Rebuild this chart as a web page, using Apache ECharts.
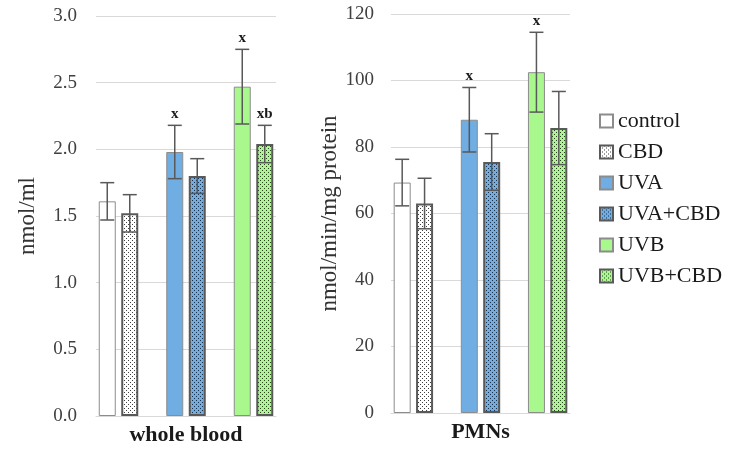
<!DOCTYPE html>
<html>
<head>
<meta charset="utf-8">
<script src="https://cdn.jsdelivr.net/npm/echarts@6/dist/echarts.min.js"></script>
<style>
  html, body { margin: 0; padding: 0; background: #fff; }
  #main { width: 730px; height: 450px; }
</style>
</head>
<body>
<div id="main"></div>
<script>
// groups and values
const groups = ['control', 'CBD', 'UVA', 'UVA+CBD', 'UVB', 'UVB+CBD'];
const slots = [0, 1, 3, 4, 6, 7]; // 8 slots per panel, two empty gaps
const bloodMean = [1.61, 1.52, 1.98, 1.80, 2.47, 2.04];
const bloodErr = [0.14, 0.14, 0.20, 0.13, 0.28, 0.14];
const bloodMarks = ['', '', 'x', '', 'x', 'xb'];
const pmnMean = [69.3, 63.0, 88.2, 75.5, 102.5, 85.7];
const pmnErr = [7.0, 7.6, 9.7, 8.5, 12.0, 11.0];
const pmnMarks = ['', '', 'x', '', 'x', ''];
const bloodTicks = [0, 3, 0.5];
const pmnTicks = [0, 120, 20];

const serif = '"Liberation Serif", "DejaVu Serif", serif';

// dotted fill like the excel pattern
function dots(bg, dot) {
  var c = document.createElement('canvas');
  c.width = 4; c.height = 4;
  var g = c.getContext('2d');
  g.fillStyle = bg; g.fillRect(0, 0, 4, 4);
  g.fillStyle = dot;
  g.fillRect(0, 0, 1, 1);
  g.fillRect(2, 2, 1, 1);
  return { image: c, repeat: 'repeat' };
}

const styles = [
  { color: '#ffffff', borderColor: '#8c8c8c', borderWidth: 1 },
  { color: dots('#ffffff', '#404040'), borderColor: '#595959', borderWidth: 2 },
  { color: '#6fade3', borderColor: '#8c8c8c', borderWidth: 1 },
  { color: dots('#6fade3', '#1c3048'), borderColor: '#595959', borderWidth: 2 },
  { color: '#a9f88e', borderColor: '#8c8c8c', borderWidth: 1 },
  { color: dots('#a9f88e', '#2a4020'), borderColor: '#595959', borderWidth: 2 }
];

function slotData(values, i) {
  var arr = ['-', '-', '-', '-', '-', '-', '-', '-'];
  arr[slots[i]] = values[i];
  return arr;
}

function errSeries(idx, mean, err, marks) {
  return {
    type: 'custom',
    xAxisIndex: idx,
    yAxisIndex: idx,
    z: 10,
    silent: true,
    data: groups.map(function (g, i) { return [slots[i], mean[i], err[i], i]; }),
    renderItem: function (params, api) {
      var x = api.value(0), m = api.value(1), e = api.value(2);
      var top = api.coord([x, m + e]);
      var bot = api.coord([x, m - e]);
      var hw = 7;
      var ls = { stroke: '#595959', lineWidth: 1.5 };
      var children = [
        { type: 'line', shape: { x1: top[0], y1: top[1], x2: bot[0], y2: bot[1] }, style: ls },
        { type: 'line', shape: { x1: top[0] - hw, y1: top[1], x2: top[0] + hw, y2: top[1] }, style: ls },
        { type: 'line', shape: { x1: bot[0] - hw, y1: bot[1], x2: bot[0] + hw, y2: bot[1] }, style: ls }
      ];
      var mk = marks[api.value(3)];
      if (mk) {
        children.push({
          type: 'text',
          style: {
            x: top[0], y: top[1] - 4, text: mk,
            align: 'center', verticalAlign: 'bottom',
            font: 'bold 15px ' + serif, fill: '#1a1a1a'
          }
        });
      }
      return { type: 'group', children: children };
    }
  };
}

var myChart = echarts.init(document.getElementById('main'));

var series = [];
groups.forEach(function (g, i) {
  series.push({
    name: g, type: 'bar', xAxisIndex: 0, yAxisIndex: 0,
    barWidth: 17, barGap: '-100%',
    itemStyle: styles[i],
    data: slotData(bloodMean, i)
  });
  series.push({
    name: g, type: 'bar', xAxisIndex: 1, yAxisIndex: 1,
    barWidth: 17, barGap: '-100%',
    itemStyle: styles[i],
    data: slotData(pmnMean, i)
  });
});
series.push(errSeries(0, bloodMean, bloodErr, bloodMarks));
series.push(errSeries(1, pmnMean, pmnErr, pmnMarks));

function xAxis(idx, name) {
  return {
    type: 'category', gridIndex: idx,
    data: ['0', '1', '2', '3', '4', '5', '6', '7'],
    name: name, nameLocation: 'middle', nameGap: 8,
    nameTextStyle: { fontFamily: serif, fontWeight: 'bold', fontSize: 22, color: '#1a1a1a' },
    axisLine: { lineStyle: { color: '#d9d9d9', width: 1 } },
    axisTick: { show: false },
    axisLabel: { show: false }
  };
}

function yAxis(idx, name, ticks, digits, gap, margin) {
  return {
    type: 'value', gridIndex: idx,
    min: ticks[0], max: ticks[1], interval: ticks[2],
    name: name, nameLocation: 'middle', nameGap: gap,
    nameTextStyle: { fontFamily: serif, fontSize: 23, color: '#333' },
    axisLine: { show: false },
    axisTick: { show: false },
    axisLabel: {
      fontFamily: serif, fontSize: 19, color: '#404040', margin: margin,
      formatter: function (v) { return v.toFixed(digits); }
    },
    splitLine: { lineStyle: { color: '#d9d9d9', width: 1 } }
  };
}

let option = {
  animation: false,
  backgroundColor: '#ffffff',
  legend: {
    data: groups,
    orient: 'vertical',
    left: 599, top: 110,
    itemWidth: 13, itemHeight: 13, itemGap: 9,
    icon: 'rect',
    padding: 0,
    textStyle: { fontFamily: serif, fontSize: 22, color: '#1a1a1a' }
  },
  grid: [
    { left: 96, top: 16, width: 180, height: 400, outerBoundsMode: 'none', containLabel: false },
    { left: 391, top: 14, width: 179, height: 399, outerBoundsMode: 'none', containLabel: false }
  ],
  xAxis: [xAxis(0, 'whole blood'), xAxis(1, 'PMNs')],
  yAxis: [
    yAxis(0, 'nmol/ml', bloodTicks, 1, 57, 19),
    yAxis(1, 'nmol/min/mg protein', pmnTicks, 0, 48, 17)
  ],
  series: series
};

myChart.setOption(option);
</script>
</body>
</html>
